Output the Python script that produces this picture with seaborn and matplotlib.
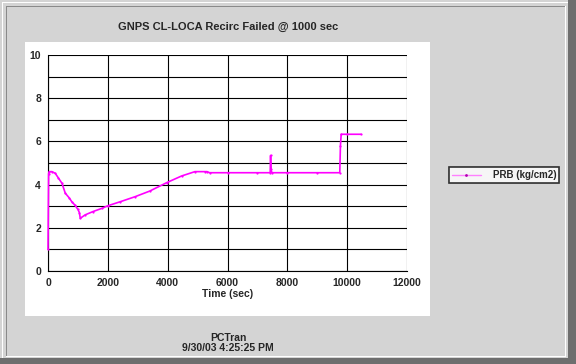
import numpy as np
import pandas as pd
import matplotlib
matplotlib.use("Agg")
import matplotlib.pyplot as plt
import seaborn as sns
from matplotlib.patches import Rectangle
from matplotlib.lines import Line2D

# PRB pressure trace
time_s = [0, 20, 40, 133, 244, 350, 467, 578, 700, 800, 900, 1000, 1050, 1078,
          1244, 1500, 1800, 2000, 2400, 2911, 3400, 3967, 4467, 4911, 5244,
          5315, 5400, 6000, 7000, 7427, 7440, 7455, 7483, 8000, 9000, 9753,
          9775, 9800, 10000, 10460]
prb = [1.0, 4.5, 4.6, 4.6, 4.52, 4.3, 4.06, 3.6, 3.4, 3.2, 3.05, 2.85, 2.7, 2.44,
       2.6, 2.75, 2.9, 3.02, 3.2, 3.44, 3.7, 4.09, 4.4, 4.6, 4.6,
       4.6, 4.55, 4.55, 4.55, 4.55, 5.35, 4.7, 4.55, 4.55, 4.55, 4.55,
       5.8, 6.33, 6.33, 6.33]

x_ticks = [0, 2000, 4000, 6000, 8000, 10000, 12000]
y_ticks = [0, 2, 4, 6, 8, 10]

df = pd.DataFrame({"Time (sec)": time_s, "PRB (kg/cm2)": prb})

sns.set_style("white")
plt.rcParams["font.family"] = ["Liberation Sans", "DejaVu Sans"]
plt.rcParams["font.weight"] = "bold"

W, H = 576, 364
fig = plt.figure(figsize=(W / 100, H / 100), dpi=100, facecolor="#d4d4d4")

# window frame
def px(x0, y0, w, h, **kw):
    fig.add_artist(Rectangle((x0 / W, 1 - (y0 + h) / H), w / W, h / H,
                             transform=fig.transFigure, zorder=-5, **kw))

px(2, 2, 568, 1, color="white", lw=0)
px(2, 2, 1, 356, color="white", lw=0)
px(6, 6, 560, 1, color="#8a8a8a", lw=0)
px(6, 6, 1, 350, color="#8a8a8a", lw=0)
px(565, 6, 1, 351, color="white", lw=0)
px(6, 356, 560, 1, color="white", lw=0)
px(568, 0, 8, 364, color="#6e6e6e", lw=0)
px(0, 358, 576, 6, color="#6e6e6e", lw=0)
# white chart panel
px(25, 42, 405, 274, color="white", lw=0)

ax = fig.add_axes([48 / W, 1 - 271 / H, (407 - 48) / W, (271 - 55) / H])
ax.set_facecolor("white")

sns.lineplot(data=df, x="Time (sec)", y="PRB (kg/cm2)", ax=ax, color="#ff00ff",
             lw=1.2, marker="o", markersize=1.6, markeredgewidth=0, legend=False)
for ln in ax.lines:
    ln.set_clip_on(False)
    ln.set_zorder(4)

ax.set_xlim(0, 12000)
ax.set_ylim(0, 10)
ax.set_xticks(x_ticks)
ax.set_yticks(y_ticks)
ax.set_xticks(np.arange(1000, 12000, 2000), minor=True)
ax.set_yticks(np.arange(1, 10, 2), minor=True)
ax.grid(which="major", axis="both", color="black", lw=0.8)
ax.grid(which="minor", axis="y", color="black", lw=0.8)
ax.set_axisbelow(True)
for s in ax.spines.values():
    s.set_visible(False)
ax.spines["left"].set_visible(True)
ax.spines["bottom"].set_visible(True)
ax.spines["left"].set_color("black")
ax.spines["bottom"].set_color("black")
ax.spines["left"].set_linewidth(0.8)
ax.spines["bottom"].set_linewidth(0.8)
ax.tick_params(which="both", direction="out", color="black", width=0.8,
               labelsize=7.5, pad=2)
ax.tick_params(axis="x", which="major", length=0, pad=5)
ax.tick_params(axis="x", which="minor", length=3)
ax.tick_params(axis="y", which="both", length=3)
for lab in ax.get_xticklabels() + ax.get_yticklabels():
    lab.set_fontweight("bold")
ax.set_xlabel("Time (sec)", fontsize=7.5, fontweight="bold", labelpad=1)
ax.set_ylabel("")

fig.text(228 / W, 1 - 27 / H, "GNPS CL-LOCA Recirc Failed @ 1000 sec",
         ha="center", va="center", fontsize=8, fontweight="bold")
fig.text(228 / W, 1 - 343 / H, "PCTran\n9/30/03 4:25:25 PM",
         ha="center", va="center", fontsize=7.5, fontweight="bold",
         linespacing=1.0)

handle = Line2D([], [], color="#ff80ff", lw=1, marker="o", markersize=2,
                markerfacecolor="#b000b0", markeredgewidth=0)
leg = fig.legend([handle], ["PRB (kg/cm2)"], loc="center",
                 bbox_to_anchor=(504 / W, 1 - 175 / H), frameon=True,
                 fancybox=False, edgecolor="black", fontsize=7,
                 handlelength=3.0, borderpad=0.3, handletextpad=1.2,
                 borderaxespad=0)
leg.get_frame().set_linewidth(1.2)
for t in leg.get_texts():
    t.set_fontweight("bold")

fig.savefig("out.png", dpi=100, facecolor=fig.get_facecolor())
